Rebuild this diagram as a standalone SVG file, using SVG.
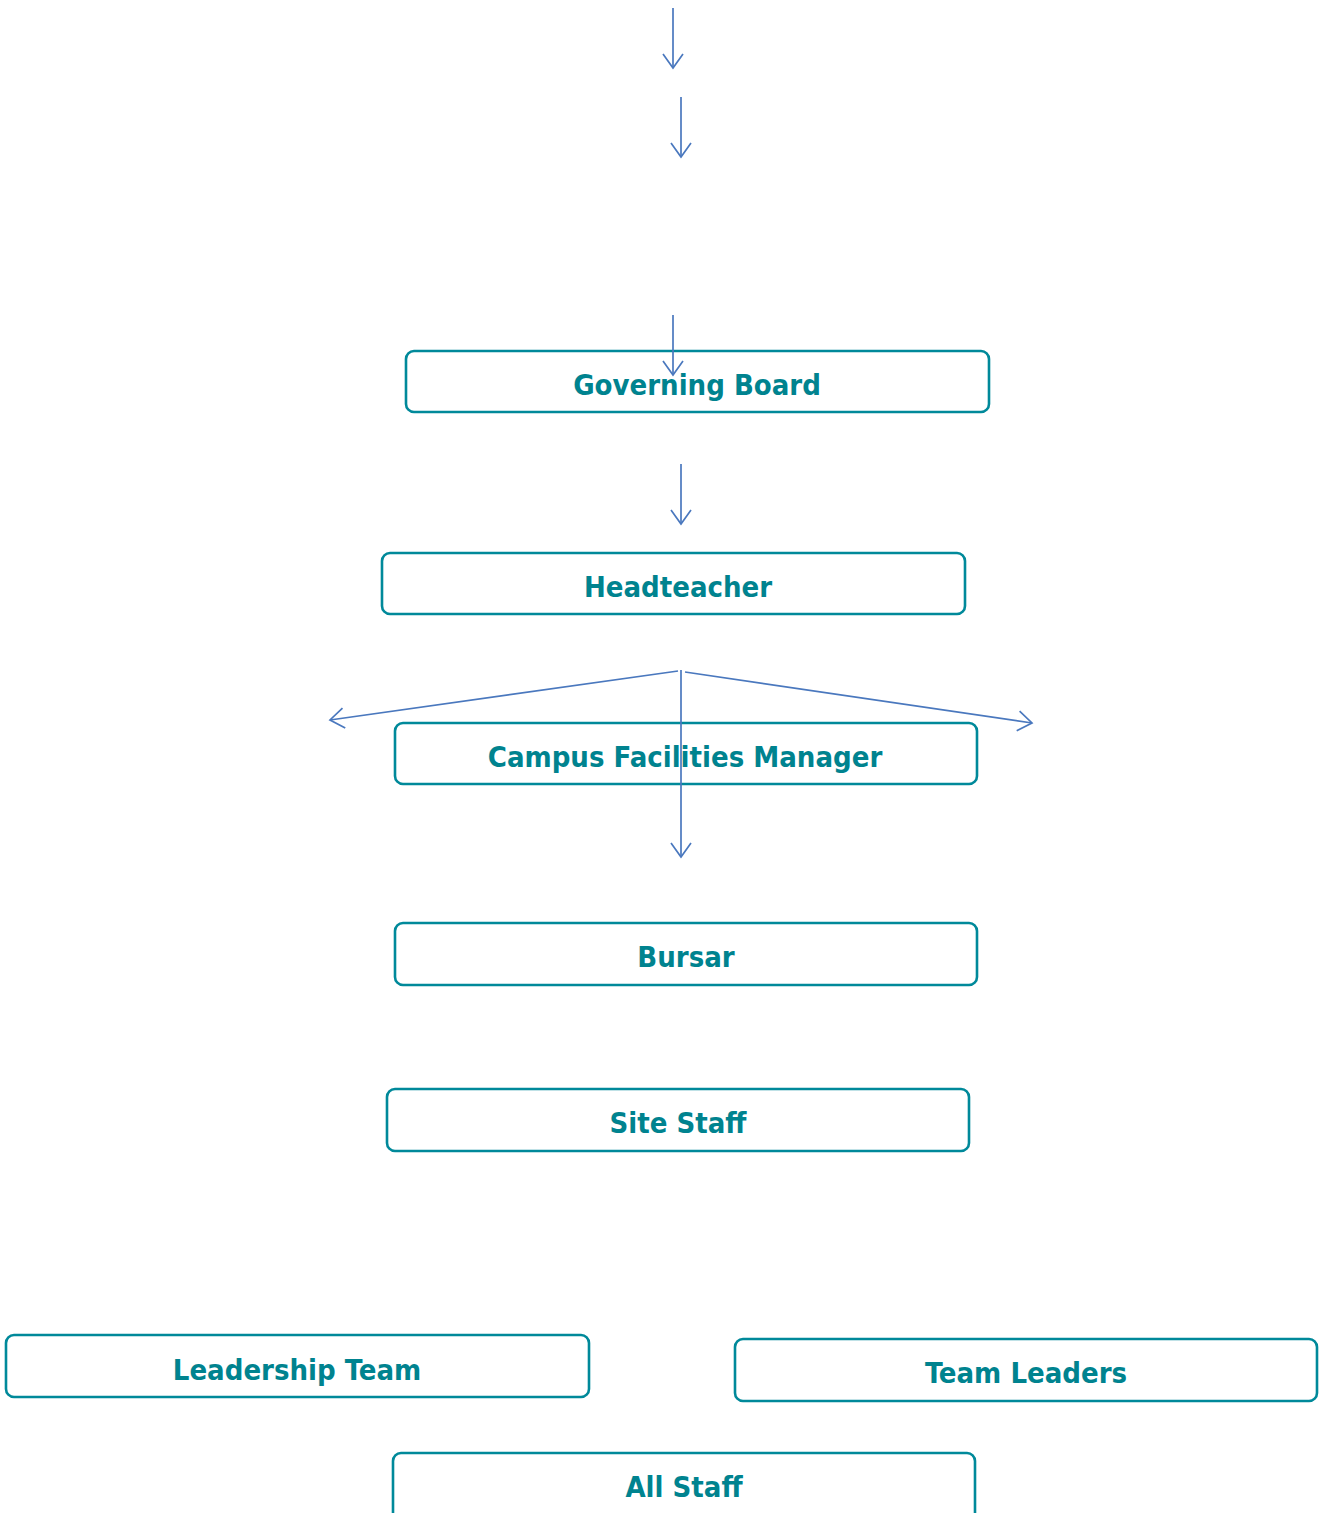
<svg xmlns="http://www.w3.org/2000/svg" width="1320" height="1513" viewBox="0 0 1320 1513">
<style>
.box{fill:#fff;stroke:#00899A;stroke-width:2.6}
.lbl{font-family:"DejaVu Sans Condensed","DejaVu Sans",sans-serif;font-stretch:condensed;font-weight:bold;font-size:29px;fill:#00838F;text-anchor:middle}
.con{stroke:#4A78BE;stroke-width:1.7;fill:none;marker-end:url(#ah)}
</style>
<defs>
<marker id="ah" markerWidth="24" markerHeight="24" refX="20" refY="12" orient="auto" markerUnits="userSpaceOnUse">
<path d="M6,2 L20,12 L6,22" fill="none" stroke="#4A78BE" stroke-width="1.7"/>
</marker>
</defs>
<g id="n-governing"><rect class="box" x="406" y="351" width="583" height="61" rx="8"/><text class="lbl" x="697" y="395">Governing Board</text></g>
<g id="n-head"><rect class="box" x="382" y="553" width="583" height="61" rx="8"/><text class="lbl" x="678" y="597">Headteacher</text></g>
<g id="n-cfm"><rect class="box" x="395" y="723" width="582" height="61" rx="8"/><text class="lbl" x="685" y="767">Campus Facilities Manager</text></g>
<g id="n-bursar"><rect class="box" x="395" y="923" width="582" height="62" rx="8"/><text class="lbl" x="686" y="967">Bursar</text></g>
<g id="n-site"><rect class="box" x="387" y="1089" width="582" height="62" rx="8"/><text class="lbl" x="678" y="1133">Site Staff</text></g>
<g id="n-leader"><rect class="box" x="6" y="1335" width="583" height="62" rx="8"/><text class="lbl" x="297" y="1380">Leadership Team</text></g>
<g id="n-teamlead"><rect class="box" x="735" y="1339" width="582" height="62" rx="8"/><text class="lbl" x="1026" y="1383">Team Leaders</text></g>
<g id="n-all"><rect class="box" x="393" y="1453" width="582" height="75" rx="8"/><text class="lbl" x="684" y="1497">All Staff</text></g>
<g id="connectors">
<line class="con" x1="673" y1="8" x2="673" y2="68"/>
<line class="con" x1="681" y1="97" x2="681" y2="157"/>
<line class="con" x1="673" y1="315" x2="673" y2="375"/>
<line class="con" x1="681" y1="464" x2="681" y2="524"/>
<line class="con" x1="681" y1="670" x2="681" y2="857"/>
<line class="con" x1="678" y1="671" x2="330" y2="720"/>
<line class="con" x1="685" y1="672" x2="1032" y2="723"/>
</g>
</svg>
